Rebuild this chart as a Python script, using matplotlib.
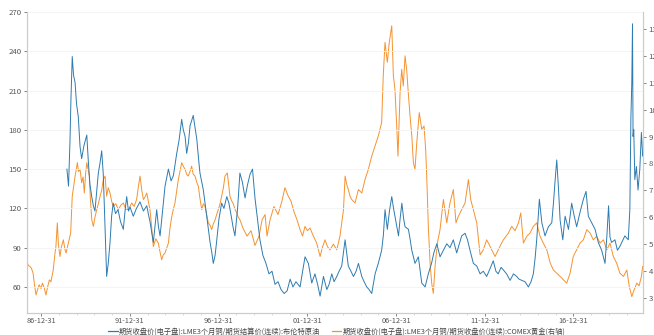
import datetime as dt
import matplotlib
matplotlib.use("Agg")
import matplotlib.pyplot as plt
import matplotlib.dates as mdates

plt.rcParams['font.family'] = ['Noto Sans CJK SC', 'DejaVu Sans']

# Copper / Brent ratio (left axis): decimal year, value
brent_years = [
    1988.45, 1988.54, 1988.62, 1988.68, 1988.75, 1988.82, 1988.91, 1988.99, 1989.09, 1989.19,
    1989.28, 1989.41, 1989.57, 1989.66, 1989.75, 1989.86, 1989.94, 1990.03, 1990.12, 1990.22,
    1990.32, 1990.41, 1990.50, 1990.60, 1990.69, 1990.78, 1990.88, 1990.97, 1991.06, 1991.19,
    1991.33, 1991.47, 1991.63, 1991.72, 1991.82, 1991.92, 1992.01, 1992.19, 1992.37, 1992.57,
    1992.76, 1992.95, 1993.05, 1993.13, 1993.32, 1993.51, 1993.61, 1993.70, 1993.84, 1993.98,
    1994.17, 1994.32, 1994.45, 1994.64, 1994.77, 1994.92, 1995.01, 1995.11, 1995.20, 1995.30,
    1995.39, 1995.57, 1995.67, 1995.77, 1995.87, 1995.95, 1996.14, 1996.33, 1996.43, 1996.52,
    1996.62, 1996.70, 1996.80, 1996.89, 1997.02, 1997.17, 1997.30, 1997.46, 1997.58, 1997.70,
    1997.81, 1997.92, 1998.07, 1998.20, 1998.34, 1998.49, 1998.63, 1998.77, 1998.91, 1999.05,
    1999.19, 1999.33, 1999.50, 1999.67, 1999.84, 2000.01, 2000.18, 2000.35, 2000.52, 2000.69,
    2000.86, 2001.03, 2001.19, 2001.36, 2001.59, 2001.87, 2002.06, 2002.25, 2002.43, 2002.58,
    2002.72, 2002.91, 2003.10, 2003.23, 2003.38, 2003.51, 2003.66, 2003.79, 2003.94, 2004.13,
    2004.31, 2004.46, 2004.60, 2004.75, 2004.88, 2005.07, 2005.20, 2005.35, 2005.48, 2005.63,
    2005.82, 2006.00, 2006.19, 2006.29, 2006.38, 2006.51, 2006.63, 2006.76, 2006.86, 2006.94,
    2007.14, 2007.23, 2007.33, 2007.43, 2007.51, 2007.70, 2007.80, 2007.89, 2008.07, 2008.26,
    2008.45, 2008.64, 2008.82, 2009.00, 2009.13, 2009.30, 2009.48, 2009.67, 2009.86, 2010.04,
    2010.23, 2010.42, 2010.55, 2010.70, 2010.89, 2011.03, 2011.17, 2011.36, 2011.55, 2011.74,
    2011.92, 2012.11, 2012.30, 2012.48, 2012.63, 2012.76, 2012.92, 2013.05, 2013.23, 2013.43,
    2013.62, 2013.80, 2013.93, 2014.09, 2014.27, 2014.46, 2014.61, 2014.74, 2014.84, 2014.93,
    2015.08, 2015.22, 2015.40, 2015.59, 2015.78, 2015.88, 2015.96, 2016.06, 2016.15, 2016.25,
    2016.40, 2016.53, 2016.72, 2016.90, 2017.03, 2017.18, 2017.37, 2017.56, 2017.71, 2017.84,
    2018.03, 2018.22, 2018.40, 2018.59, 2018.78, 2018.89, 2018.98, 2019.06, 2019.15, 2019.34,
    2019.48, 2019.62, 2019.76, 2019.90, 2020.09, 2020.18, 2020.24, 2020.29, 2020.33, 2020.36,
    2020.40, 2020.46, 2020.55, 2020.64, 2020.74, 2020.83, 2020.90,
]
brent_ratio = [
    150, 137, 170, 205, 236, 222, 216, 200, 190, 167,
    158, 168, 176, 155, 138, 128, 122, 118, 132, 147,
    155, 164, 146, 104, 68, 78, 94, 114, 124, 116,
    119, 110, 104, 117, 129, 118, 121, 114, 120, 125,
    118, 122, 115, 110, 94, 119, 106, 99, 118, 137,
    150, 141, 145, 162, 172, 188, 180, 175, 162, 170,
    183, 191, 182, 173, 158, 147, 134, 114, 104, 94,
    86, 78, 84, 95, 112, 124, 120, 129, 124, 115,
    106, 99, 120, 147, 140, 128, 138, 146, 150, 128,
    112, 96, 84, 78, 70, 72, 62, 64, 58, 55,
    57, 66, 60, 64, 60, 83, 78, 63, 70, 62,
    53, 68, 58, 62, 70, 64, 68, 72, 76, 96,
    76, 72, 68, 72, 78, 68, 64, 60, 58, 55,
    70, 78, 88, 100, 119, 104, 118, 129, 120, 114,
    99, 112, 124, 112, 106, 104, 96, 88, 78, 83,
    63, 60, 70, 78, 86, 93, 83, 88, 93, 90,
    96, 86, 92, 99, 101, 96, 88, 78, 76, 70,
    72, 68, 74, 80, 72, 70, 75, 73, 70, 65,
    70, 68, 66, 65, 64, 60, 64, 70, 82, 96,
    127, 109, 99, 106, 109, 125, 140, 157, 137, 111,
    96, 114, 104, 124, 115, 106, 117, 127, 133, 114,
    109, 104, 94, 88, 78, 100, 122, 98, 94, 96,
    88, 91, 95, 99, 96, 119, 190, 216, 261, 175,
    180, 142, 152, 134, 150, 178, 160,
]

# Copper / COMEX gold ratio (right axis): decimal year, value
gold_years = [
    1986.20, 1986.28, 1986.37, 1986.45, 1986.54, 1986.62, 1986.71, 1986.79, 1986.89, 1986.99,
    1987.07, 1987.16, 1987.27, 1987.36, 1987.46, 1987.55, 1987.68, 1987.78, 1987.83, 1987.91,
    1987.97, 1988.06, 1988.14, 1988.25, 1988.34, 1988.40, 1988.53, 1988.66, 1988.75, 1988.82,
    1988.91, 1989.04, 1989.10, 1989.19, 1989.28, 1989.36, 1989.43, 1989.50, 1989.57, 1989.64,
    1989.71, 1989.78, 1989.85, 1989.94, 1990.03, 1990.13, 1990.22, 1990.32, 1990.41, 1990.50,
    1990.60, 1990.69, 1990.78, 1990.88, 1990.97, 1991.06, 1991.21, 1991.35, 1991.49, 1991.63,
    1991.77, 1991.92, 1992.10, 1992.24, 1992.38, 1992.47, 1992.57, 1992.67, 1992.76, 1992.85,
    1992.95, 1993.04, 1993.13, 1993.23, 1993.32, 1993.46, 1993.60, 1993.70, 1993.79, 1993.88,
    1993.98, 1994.07, 1994.17, 1994.26, 1994.36, 1994.45, 1994.54, 1994.64, 1994.73, 1994.82,
    1994.92, 1995.01, 1995.11, 1995.20, 1995.29, 1995.39, 1995.48, 1995.57, 1995.67, 1995.77,
    1995.86, 1995.95, 1996.05, 1996.14, 1996.23, 1996.33, 1996.42, 1996.52, 1996.61, 1996.70,
    1996.80, 1996.89, 1996.98, 1997.08, 1997.17, 1997.27, 1997.36, 1997.49, 1997.57, 1997.64,
    1997.74, 1997.83, 1997.92, 1998.02, 1998.11, 1998.20, 1998.37, 1998.60, 1998.83, 1999.05,
    1999.28, 1999.45, 1999.62, 1999.73, 1999.90, 2000.12, 2000.35, 2000.57, 2000.74, 2000.91,
    2001.08, 2001.25, 2001.42, 2001.59, 2001.73, 2001.87, 2002.01, 2002.15, 2002.34, 2002.53,
    2002.62, 2002.72, 2002.86, 2003.00, 2003.14, 2003.28, 2003.47, 2003.66, 2003.84, 2004.04,
    2004.13, 2004.23, 2004.31, 2004.40, 2004.50, 2004.69, 2004.88, 2005.07, 2005.25, 2005.44,
    2005.63, 2005.82, 2006.00, 2006.19, 2006.28, 2006.38, 2006.51, 2006.62, 2006.76, 2006.85,
    2006.94, 2007.04, 2007.11, 2007.23, 2007.32, 2007.41, 2007.51, 2007.60, 2007.69, 2007.79,
    2007.89, 2007.98, 2008.07, 2008.17, 2008.31, 2008.45, 2008.58, 2008.67, 2008.73, 2008.82,
    2008.92, 2009.01, 2009.10, 2009.20, 2009.33, 2009.48, 2009.67, 2009.86, 2010.04, 2010.23,
    2010.38, 2010.51, 2010.70, 2010.89, 2011.08, 2011.21, 2011.36, 2011.55, 2011.74, 2011.92,
    2012.11, 2012.24, 2012.39, 2012.58, 2012.76, 2012.92, 2013.05, 2013.33, 2013.52, 2013.71,
    2013.90, 2014.03, 2014.18, 2014.37, 2014.55, 2014.74, 2014.93, 2015.12, 2015.30, 2015.50,
    2015.69, 2015.87, 2016.06, 2016.25, 2016.44, 2016.62, 2016.81, 2016.99, 2017.18, 2017.37,
    2017.56, 2017.75, 2017.94, 2018.12, 2018.31, 2018.50, 2018.69, 2018.88, 2019.06, 2019.25,
    2019.44, 2019.62, 2019.82, 2020.01, 2020.15, 2020.29, 2020.42, 2020.57, 2020.70, 2020.83,
    2020.90,
]
gold_ratio = [
    4.35, 4.20, 4.17, 4.10, 3.93, 3.50, 3.11, 3.30, 3.49, 3.35,
    3.55, 3.40, 3.11, 3.40, 3.67, 3.60, 4.04, 4.67, 4.90, 5.79,
    5.00, 4.54, 4.90, 5.16, 4.80, 4.67, 5.04, 5.41, 6.78, 7.10,
    7.53, 8.03, 7.70, 7.78, 7.28, 7.50, 6.90, 7.60, 8.03, 7.80,
    7.53, 6.60, 5.91, 5.66, 6.00, 6.28, 6.50, 6.78, 7.00, 7.40,
    7.53, 6.78, 7.10, 6.90, 6.60, 6.41, 6.50, 6.28, 6.45, 6.53,
    6.30, 6.28, 6.53, 6.40, 6.66, 7.10, 7.53, 7.00, 6.66, 6.75,
    6.90, 6.60, 6.28, 5.60, 4.91, 5.20, 5.04, 4.70, 4.42, 4.60,
    4.67, 4.85, 5.04, 5.60, 6.03, 6.30, 6.53, 7.00, 7.40, 7.70,
    8.03, 7.90, 7.78, 7.60, 7.53, 7.70, 7.90, 7.60, 7.53, 7.30,
    7.15, 6.70, 6.28, 6.50, 6.41, 6.10, 5.79, 5.70, 5.54, 5.75,
    5.90, 6.10, 6.28, 6.50, 6.78, 7.10, 7.53, 7.65, 7.20, 6.78,
    6.60, 6.50, 6.30, 6.16, 6.00, 5.91, 5.60, 5.30, 5.50, 4.95,
    5.30, 5.90, 6.10, 5.30, 5.90, 6.40, 6.10, 6.60, 7.10, 6.80,
    6.60, 6.20, 5.90, 5.54, 5.30, 5.66, 5.50, 5.60, 5.30, 5.04,
    4.80, 4.54, 4.90, 5.16, 4.90, 4.79, 5.00, 4.79, 5.29, 6.28,
    7.53, 7.20, 7.03, 6.80, 6.66, 6.53, 7.03, 6.90, 7.40, 7.78,
    8.27, 8.65, 9.02, 9.52, 11.26, 12.50, 11.76, 12.50, 13.12, 11.26,
    10.76, 9.39, 8.27, 10.64, 11.50, 10.88, 12.00, 11.50, 10.64, 9.77,
    9.02, 8.03, 7.78, 8.77, 9.89, 9.27, 9.39, 8.52, 7.53, 5.66,
    4.29, 3.55, 3.17, 4.17, 5.04, 5.54, 6.66, 5.79, 6.53, 7.03,
    5.79, 6.03, 6.28, 6.53, 7.40, 6.66, 6.28, 5.79, 4.60, 4.79,
    5.16, 5.00, 4.79, 4.54, 4.79, 5.00, 5.16, 5.41, 5.66, 5.50,
    5.79, 6.16, 5.04, 5.29, 5.41, 5.66, 5.79, 5.29, 5.04, 4.79,
    4.30, 4.04, 3.92, 3.80, 3.67, 3.55, 3.92, 4.54, 4.79, 5.04,
    5.16, 5.54, 5.41, 5.16, 5.29, 5.04, 5.16, 4.79, 5.04, 4.54,
    4.29, 3.92, 3.80, 4.04, 3.42, 3.05, 3.30, 3.55, 3.45, 3.80,
    4.17,
]

left_ticks = [60, 90, 120, 150, 180, 210, 240, 270]
right_ticks = [3, 4, 5, 6, 7, 8, 9, 10, 11, 12, 13]
date_ticks = ["1986-12-31", "1991-12-31", "1996-12-31", "2001-12-31",
              "2006-12-31", "2011-12-31", "2016-12-31"]

label_brent = "期货收盘价(电子盘):LME3个月铜/期货结算价(连续):布伦特原油"
label_gold = "期货收盘价(电子盘):LME3个月铜/期货收盘价(连续):COMEX黄金(右轴)"

BLUE = "#2d7bb0"
ORANGE = "#f5922f"
TICK_COLOR = "#555555"
SPINE = "#cccccc"


def to_date(y):
    year = int(y)
    start = dt.datetime(year, 1, 1)
    span = (dt.datetime(year + 1, 1, 1) - start).total_seconds()
    return start + dt.timedelta(seconds=(y - year) * span)


fig = plt.figure(figsize=(6.54, 3.35), dpi=100)
ax = fig.add_axes([27 / 654, 1 - 313 / 335, (643 - 27) / 654, (313 - 12) / 335])
ax2 = ax.twinx()

ax.plot([to_date(y) for y in brent_years], brent_ratio, color=BLUE, lw=0.7, zorder=3)
ax2.plot([to_date(y) for y in gold_years], gold_ratio, color=ORANGE, lw=0.7, zorder=2)

ax.set_zorder(ax2.get_zorder() + 1)
ax.patch.set_visible(False)

ax.set_xlim(to_date(1986.2), to_date(2020.92))
ax.set_ylim(40.1, 270)
ax2.set_ylim(2.44, 13.63)

ax.set_yticks(left_ticks)
ax2.set_yticks(right_ticks)
ax.set_xticks([dt.datetime.strptime(d, "%Y-%m-%d") for d in date_ticks])
ax.xaxis.set_major_formatter(mdates.DateFormatter("%y-%m-%d"))
ax.xaxis.set_minor_locator(mdates.YearLocator(1, month=12, day=31))

ax.grid(axis="y", color="#f2f2f2", lw=0.6)
ax.set_axisbelow(True)

for a in (ax, ax2):
    a.spines["top"].set_visible(False)
    for side in ("left", "right", "bottom"):
        a.spines[side].set_color(SPINE)
        a.spines[side].set_linewidth(0.8)
    a.tick_params(axis="both", which="major", labelsize=5.6, colors=TICK_COLOR,
                  length=2.5, width=0.5, pad=1.5)
    a.tick_params(axis="both", which="minor", length=1.5, width=0.5, colors=SPINE)
ax.tick_params(axis="x", which="major", labelsize=5.3, pad=0.5)
for lbl in ax.get_xticklabels() + ax.get_yticklabels() + ax2.get_yticklabels():
    lbl.set_color(TICK_COLOR)

handles = [
    plt.Line2D([], [], color=BLUE, lw=0.9),
    plt.Line2D([], [], color=ORANGE, lw=0.9),
]
fig.legend(handles, [label_brent, label_gold], loc="center",
           bbox_to_anchor=(0.515, 0.011), ncol=2, frameon=False, fontsize=5.2,
           handlelength=1.3, handletextpad=0.2, columnspacing=1.6,
           borderpad=0.0, labelcolor="#444444")

fig.savefig("out.png", dpi=100)
